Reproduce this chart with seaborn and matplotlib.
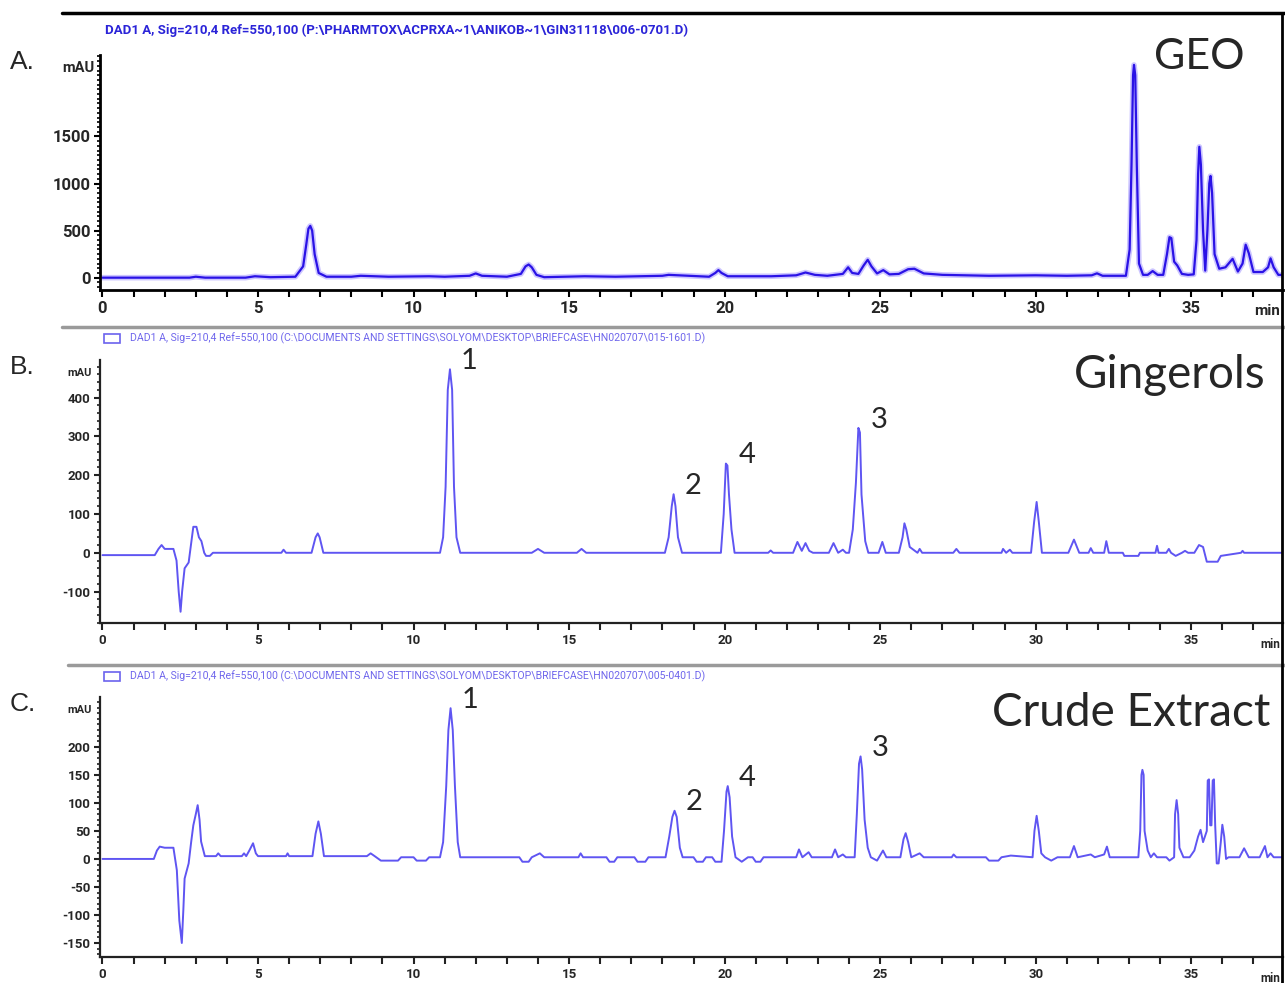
import matplotlib.pyplot as plt
from matplotlib import font_manager
from matplotlib.font_manager import FontProperties
from matplotlib.lines import Line2D
from matplotlib.patches import Rectangle
from matplotlib.ticker import MultipleLocator
import pandas as pd
import seaborn as sns

# chromatogram traces: (retention time in min, signal in mAU)
geo_trace = [
    (0.0, 0), (2.8, 0), (3.0, 10), (3.3, 0), (4.6, 0), (4.9, 15), (5.4, 5), (6.2, 10),
    (6.45, 120), (6.55, 350), (6.62, 520), (6.68, 550), (6.74, 500), (6.82, 250), (6.95, 50),
    (7.2, 10), (8.0, 10), (8.3, 20), (9.2, 10), (10.5, 15), (11.0, 10), (11.8, 20), (12.0, 45),
    (12.2, 20), (13.0, 10), (13.45, 40), (13.6, 120), (13.7, 140), (13.8, 110), (13.95, 30),
    (14.2, 5), (15.5, 15), (16.5, 10), (18.0, 20), (18.2, 30), (19.5, 10), (19.7, 50), (19.8, 80),
    (19.9, 50), (20.1, 15), (21.5, 15), (22.3, 25), (22.6, 55), (22.9, 30), (23.3, 20), (23.8, 40),
    (23.97, 110), (24.1, 50), (24.3, 40), (24.47, 130), (24.6, 190), (24.72, 120), (24.9, 45),
    (25.1, 80), (25.3, 35), (25.6, 40), (25.9, 90), (26.1, 95), (26.4, 45), (27.0, 30), (28.5, 20),
    (30.0, 25), (31.0, 20), (31.8, 25), (31.97, 46), (32.15, 20), (32.9, 20), (33.02, 300),
    (33.08, 1200), (33.13, 2150), (33.16, 2260), (33.2, 2150), (33.25, 1200), (33.32, 150),
    (33.45, 30), (33.6, 30), (33.76, 70), (33.92, 30), (34.1, 30), (34.22, 250), (34.3, 430),
    (34.36, 420), (34.45, 170), (34.55, 130), (34.7, 40), (34.9, 30), (35.08, 35), (35.17, 400),
    (35.22, 1100), (35.26, 1390), (35.31, 1200), (35.38, 500), (35.45, 75), (35.52, 500),
    (35.58, 1000), (35.62, 1080), (35.67, 900), (35.75, 250), (35.9, 95), (36.1, 110), (36.33, 200),
    (36.5, 65), (36.65, 150), (36.75, 350), (36.85, 260), (37.0, 60), (37.3, 60), (37.47, 110),
    (37.55, 205), (37.65, 110), (37.8, 30), (37.95, 30),
]

gingerol_trace = [
    (0.0, -6), (1.68, -6), (1.8, 10), (1.9, 20), (2.0, 10), (2.28, 10), (2.38, -20), (2.45, -100),
    (2.51, -152), (2.56, -100), (2.64, -40), (2.77, -25), (2.86, 30), (2.92, 67), (3.02, 67),
    (3.1, 40), (3.18, 30), (3.27, 0), (3.33, -8), (3.45, -8), (3.55, 0), (5.75, 0), (5.82, 8),
    (5.9, 0), (6.72, 0), (6.85, 40), (6.92, 50), (6.98, 40), (7.1, 0), (10.85, 0), (10.95, 40),
    (11.03, 170), (11.1, 420), (11.17, 473), (11.24, 420), (11.3, 170), (11.38, 40), (11.5, 0),
    (13.8, 0), (14.0, 10), (14.2, 0), (15.25, 0), (15.4, 10), (15.55, 0), (18.08, 0), (18.2, 40),
    (18.3, 120), (18.36, 151), (18.42, 120), (18.5, 40), (18.63, 0), (19.88, 0), (19.97, 100),
    (20.04, 230), (20.09, 225), (20.14, 150), (20.22, 60), (20.32, 0), (21.4, 0), (21.48, 6),
    (21.56, 0), (22.2, 0), (22.34, 28), (22.48, 5), (22.6, 25), (22.72, 5), (22.84, 0), (23.35, 0),
    (23.5, 25), (23.65, 0), (23.8, 8), (23.9, 0), (24.0, 0), (24.12, 60), (24.22, 180), (24.3, 322),
    (24.35, 310), (24.4, 150), (24.46, 90), (24.52, 30), (24.62, 0), (24.95, 0), (25.07, 28),
    (25.18, 0), (25.6, 0), (25.72, 40), (25.78, 76), (25.84, 60), (25.95, 15), (26.2, 0),
    (26.27, 10), (26.35, 0), (27.35, 0), (27.45, 10), (27.55, 0), (28.9, 0), (28.95, 10),
    (29.05, 0), (29.17, 8), (29.25, 0), (29.85, 0), (29.95, 80), (30.03, 131), (30.1, 80),
    (30.2, 0), (31.05, 0), (31.23, 34), (31.4, 0), (31.7, 0), (31.77, 12), (31.85, 0), (32.2, 0),
    (32.27, 30), (32.35, 0), (32.8, 0), (32.85, -8), (33.3, -8), (33.35, 0), (33.85, 0),
    (33.9, 18), (33.95, 0), (34.2, 0), (34.28, 10), (34.35, 0), (34.5, -8), (34.7, 0), (34.8, 5),
    (34.9, 0), (35.1, 0), (35.25, 20), (35.38, 15), (35.5, -23), (35.85, -23), (35.95, -8),
    (36.2, -5), (36.6, 0), (36.65, 5), (36.7, 0), (37.97, 0),
]

crude_trace = [
    (0.0, 0), (1.65, 0), (1.75, 15), (1.84, 22), (2.0, 20), (2.28, 20), (2.39, -20), (2.47, -110),
    (2.55, -150), (2.6, -90), (2.64, -35), (2.77, -8), (2.85, 30), (2.92, 60), (3.0, 80),
    (3.06, 96), (3.12, 70), (3.17, 31), (3.29, 5), (3.65, 5), (3.72, 10), (3.8, 5), (4.48, 5),
    (4.55, 10), (4.62, 5), (4.72, 15), (4.84, 28), (4.93, 10), (5.0, 5), (5.9, 5), (5.95, 10),
    (6.0, 5), (6.75, 5), (6.85, 45), (6.94, 67), (7.02, 45), (7.12, 5), (8.5, 5), (8.62, 10),
    (8.75, 5), (8.95, -3), (9.5, -3), (9.6, 3), (10.0, 3), (10.1, -3), (10.4, -3), (10.5, 3),
    (10.85, 3), (10.95, 30), (11.05, 130), (11.12, 230), (11.19, 269), (11.26, 230), (11.33, 130),
    (11.42, 30), (11.5, 3), (13.4, 3), (13.5, -5), (13.7, -5), (13.8, 3), (14.06, 10), (14.2, 3),
    (15.3, 3), (15.37, 10), (15.45, 3), (16.2, 3), (16.3, -5), (16.45, -5), (16.55, 3), (17.1, 3),
    (17.2, -5), (17.45, -5), (17.55, 3), (18.1, 3), (18.22, 40), (18.32, 75), (18.39, 86),
    (18.46, 75), (18.56, 20), (18.65, 3), (19.0, 3), (19.1, -5), (19.3, -5), (19.4, 3), (19.6, 3),
    (19.7, -5), (19.9, -5), (19.98, 50), (20.06, 120), (20.1, 130), (20.16, 110), (20.24, 40),
    (20.35, 3), (20.55, -5), (20.75, 3), (20.9, 3), (21.0, -5), (21.15, -5), (21.25, 3), (22.3, 3),
    (22.39, 17), (22.5, 3), (22.7, 12), (22.8, 3), (23.45, 3), (23.55, 17), (23.65, 3), (23.8, 8),
    (23.9, 3), (24.18, 3), (24.25, 80), (24.32, 170), (24.37, 183), (24.42, 160), (24.5, 70),
    (24.6, 20), (24.7, 3), (24.9, -3), (25.09, 15), (25.2, 3), (25.65, 3), (25.75, 35), (25.82, 46),
    (25.9, 30), (26.0, 3), (26.27, 10), (26.4, 3), (27.3, 3), (27.36, 8), (27.45, 3), (28.4, 3),
    (28.5, -3), (28.8, -3), (28.9, 3), (29.2, 6), (29.9, 3), (29.96, 50), (30.03, 77), (30.1, 50),
    (30.18, 10), (30.3, 3), (30.5, -3), (30.7, 3), (31.1, 3), (31.23, 23), (31.35, 3), (31.77, 8),
    (31.9, 3), (32.2, 8), (32.29, 22), (32.38, 3), (33.3, 3), (33.36, 50), (33.4, 150),
    (33.43, 159), (33.47, 150), (33.5, 50), (33.6, 15), (33.7, 3), (33.8, 10), (33.9, 3), (34.2, 3),
    (34.3, -3), (34.45, 3), (34.48, 80), (34.53, 105), (34.58, 80), (34.62, 20), (34.75, 3),
    (34.95, 3), (35.1, 15), (35.22, 40), (35.3, 52), (35.38, 30), (35.5, 50), (35.53, 140),
    (35.57, 142), (35.61, 60), (35.65, 60), (35.69, 140), (35.73, 142), (35.77, 60), (35.82, -8),
    (35.88, -8), (35.95, 30), (36.0, 61), (36.06, 40), (36.12, 0), (36.2, 3), (36.55, 3),
    (36.7, 19), (36.85, 3), (37.2, 3), (37.37, 23), (37.45, 3), (37.55, 10), (37.65, 3), (37.97, 3),
]

# numbered gingerol peaks: label, retention time, height
gingerol_peaks = [('1', 11.17, 473), ('2', 18.36, 151), ('4', 20.09, 230), ('3', 24.35, 322)]
crude_peaks = [('1', 11.19, 269), ('2', 18.39, 86), ('4', 20.1, 130), ('3', 24.37, 183)]

geo_yticks = [0, 500, 1000, 1500]
gingerol_yticks = [-100, 0, 100, 200, 300, 400]
crude_yticks = [-150, -100, -50, 0, 50, 100, 150, 200]
xticks = [0, 5, 10, 15, 20, 25, 30, 35]

headers = [
    r'DAD1 A, Sig=210,4 Ref=550,100 (P:\PHARMTOX\ACPRXA~1\ANIKOB~1\GIN31118\006-0701.D)',
    r'DAD1 A, Sig=210,4 Ref=550,100 (C:\DOCUMENTS AND SETTINGS\SOLYOM\DESKTOP\BRIEFCASE\HN020707\015-1601.D)',
    r'DAD1 A, Sig=210,4 Ref=550,100 (C:\DOCUMENTS AND SETTINGS\SOLYOM\DESKTOP\BRIEFCASE\HN020707\005-0401.D)',
]

sns.set_style('ticks')
CAL = ['Lato', 'DejaVu Sans']
plt.rcParams['font.family'] = ['Roboto', 'DejaVu Sans']


def narrow_font(bold, size):
    # a narrow sans if one is installed, else Roboto
    wanted = ['LiberationSansNarrow-Bold.ttf', 'NotoSans-CondensedBold.ttf'] if bold \
        else ['LiberationSansNarrow-Regular.ttf', 'NotoSans-Condensed.ttf']
    files = [f.fname for f in font_manager.fontManager.ttflist]
    for w in wanted:
        for f in files:
            if f.endswith(w):
                return FontProperties(fname=f, size=size)
    return FontProperties(family='Roboto', weight='bold' if bold else 'normal', size=size)


W, H = 1285, 983
fig = plt.figure(figsize=(W / 100, H / 100), dpi=100)
renderer = fig.canvas.get_renderer()


def fx(px):
    return px / W


def fy(py):
    return 1 - py / H


def hline(y, x0, x1, color, lw):
    fig.add_artist(Line2D([fx(x0), fx(x1)], [fy(y), fy(y)], color=color, lw=lw))


def fit_width(t, target):
    w = t.get_window_extent(renderer).width
    t.set_fontsize(t.get_fontsize() * target / w)


panels = [
    # top px, bottom px, trace, ylim, yticks, minor step, letter, title, title box, peaks
    (55, 290, geo_trace, (-131, 2365), geo_yticks, 50, 'A.', 'GEO', (1245, 57, 31), None),
    (360, 623, gingerol_trace, (-181, 497), gingerol_yticks, 20, 'B.', 'Gingerols',
     (1266, 375, 33), gingerol_peaks),
    (697, 957, crude_trace, (-175, 289), crude_yticks, 10, 'C.', 'Crude Extract',
     (1270, 713, 33), crude_peaks),
]

for i, (top, bot, trace, ylim, yt, minor, letter, title, tbox, peaks) in enumerate(panels):
    ax = fig.add_axes([fx(100), fy(bot), fx(1283) - fx(100), (bot - top) / H])
    df = pd.DataFrame(trace, columns=['min', 'mAU'])
    if i == 0:
        sns.lineplot(data=df, x='min', y='mAU', ax=ax, sort=False, estimator=None,
                     color='#8f80ff', lw=4.0, alpha=0.45)
        sns.lineplot(data=df, x='min', y='mAU', ax=ax, sort=False, estimator=None,
                     color='#2a12e6', lw=1.6)
    else:
        sns.lineplot(data=df, x='min', y='mAU', ax=ax, sort=False, estimator=None,
                     color='#5f55f2', lw=1.4)
    ax.set_xlabel('')
    ax.set_ylabel('')
    ax.set_xlim(-0.08, 37.95)
    ax.set_ylim(*ylim)
    ax.set_xticks(xticks)
    ax.set_xticklabels([str(t) for t in xticks])
    ax.xaxis.set_minor_locator(MultipleLocator(1))
    ax.set_yticks(yt)
    ax.set_yticklabels([str(t) for t in yt])
    ax.yaxis.set_minor_locator(MultipleLocator(minor))
    for s in ['top', 'right']:
        ax.spines[s].set_visible(False)
    spine_c = 'black' if i == 0 else '#222222'
    for s in ['left', 'bottom']:
        ax.spines[s].set_color(spine_c)
        ax.spines[s].set_linewidth(2.0 if i == 0 else 1.6)
    big = 12 if i == 0 else 9.5
    tick_fp = narrow_font(True, big)
    ax.tick_params(axis='x', which='both', length=5, width=1.5, pad=3, color=spine_c)
    ax.tick_params(axis='y', which='major', length=4, width=1.5, pad=3, color=spine_c)
    ax.tick_params(axis='y', which='minor', length=2.5, width=1.2, color=spine_c)
    for lab in ax.get_xticklabels() + ax.get_yticklabels():
        lab.set_fontproperties(tick_fp)

    # unit labels
    fig.text(fx(78 if i == 0 else 80), fy(top + 13), 'mAU', ha='center', va='center',
             fontproperties=narrow_font(True, big - 1.5))
    fig.text(fx(1280), fy(bot + 21), 'min', ha='right', va='center',
             fontproperties=narrow_font(True, big - 1))

    # panel letter and sample name
    fig.text(fx(10), fy(top + 7), letter, ha='left', va='center', fontsize=19,
             family=['Liberation Sans', 'DejaVu Sans'])
    tx, ty, tsize = tbox
    fig.text(fx(tx), fy(ty), title, ha='right', va='center', fontsize=tsize, family=CAL)

    if peaks:
        for lab, rt, h in peaks:
            ax.annotate(lab, xy=(rt, h), xytext=(14, 6), textcoords='offset points',
                        ha='center', va='center', fontsize=21, family=CAL)

# header lines, captions, frame
hline(13, 62, 1285, 'black', 2.5)
hline(327, 62, 1285, '#9a9a9a', 2.5)
hline(665, 68, 1285, '#9a9a9a', 2.5)
fig.add_artist(Line2D([fx(1282), fx(1282)], [fy(13), fy(983)], color='black', lw=2.0))

t = fig.text(fx(105), fy(30), headers[0], ha='left', va='center',
             fontproperties=narrow_font(True, 11), color='#2b24d8')
fit_width(t, 585)
for y, txt in [(338, headers[1]), (676, headers[2])]:
    fig.add_artist(Rectangle((fx(104), fy(y + 5)), fx(16), 9 / H, fill=False,
                             edgecolor='#6b62ee', lw=1.2))
    t = fig.text(fx(130), fy(y), txt, ha='left', va='center',
                 fontproperties=narrow_font(False, 9), color='#6f66ec')
    fit_width(t, 577)

fig.savefig('out.png', dpi=100)
